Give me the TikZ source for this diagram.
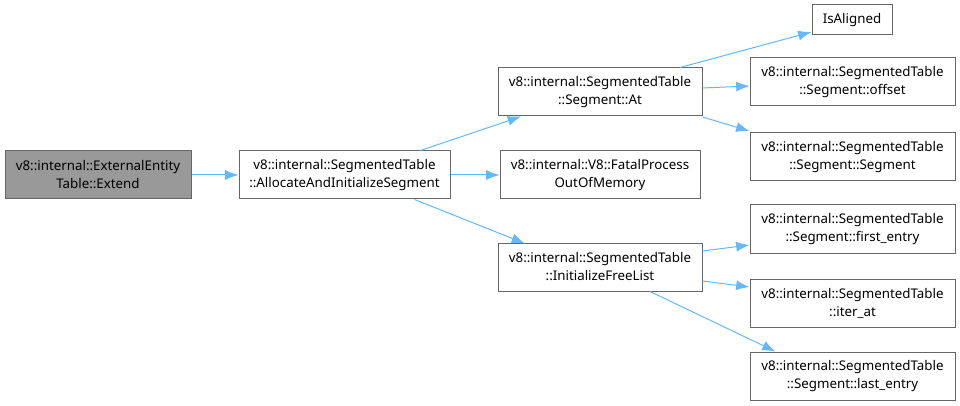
\documentclass[tikz,border=0pt]{standalone}
\usepackage{fontspec}
\setmainfont{Noto Sans}
\usetikzlibrary{arrows.meta,calc}
\definecolor{edgec}{HTML}{63B8FF}
\definecolor{bord}{HTML}{666666}
\definecolor{grayf}{HTML}{999999}
\tikzset{
  fn/.style args={#1/#2}{draw=bord, line width=0.75pt, fill=white, inner sep=0pt,
    minimum width=#1*0.75pt, minimum height=#2*0.75pt, align=center,
    font=\fontsize{10pt}{13.5pt}\selectfont},
  cur/.style={fill=grayf},
  edge/.style={draw=edgec, line width=0.75pt, -{Latex[length=10pt,width=7.5pt]}}
}
\begin{document}
\begin{tikzpicture}[x=0.75pt,y=-0.75pt]
\useasboundingbox (0,0) rectangle (960,406);
\node[fn=186/48, cur] (ext) at (98,175) {v8::internal::ExternalEntity\\Table::Extend};
\node[fn=211/48] (alloc) at (344.5,175) {v8::internal::SegmentedTable\\::AllocateAndInitializeSegment};
\node[fn=204/48] (at) at (600,92) {v8::internal::SegmentedTable\\::Segment::At};
\node[fn=200/48] (fatal) at (600,175) {v8::internal::V8::FatalProcess\\OutOfMemory};
\node[fn=204/48] (ifl) at (600,267) {v8::internal::SegmentedTable\\::InitializeFreeList};
\node[fn=80/30] (isal) at (852,20) {IsAligned};
\node[fn=205/48] (off) at (852.5,82) {v8::internal::SegmentedTable\\::Segment::offset};
\node[fn=205/48] (seg) at (852.5,157) {v8::internal::SegmentedTable\\::Segment::Segment};
\node[fn=205/48] (first) at (852.5,229) {v8::internal::SegmentedTable\\::Segment::first\_entry};
\node[fn=205/48] (iter) at (852.5,303) {v8::internal::SegmentedTable\\::iter\_at};
\node[fn=205/48] (last) at (852.5,376) {v8::internal::SegmentedTable\\::Segment::last\_entry};

\draw[edge] (ext) -- (alloc);
\draw[edge] ($(alloc.north)+(76,0)$) -- ($(at.south)+(-79,0)$);
\draw[edge] (alloc) -- (fatal);
\draw[edge] ($(alloc.south)+(70,0)$) -- ($(ifl.south)+(-75,-48)$);
\draw[edge] ($(at.north)+(80,0)$) -- ($(isal.west)+(0,12)$);
\draw[edge] ($(at.east)+(0,-4)$) -- ($(off.west)+(0,4)$);
\draw[edge] ($(at.east)+(0,25)$) -- ($(seg.west)+(0,-26)$);
\draw[edge] ($(ifl.east)+(0,-16)$) -- ($(first.west)+(0,16)$);
\draw[edge] ($(ifl.east)+(0,14)$) -- ($(iter.west)+(0,-16)$);
\draw[edge] ($(ifl.south)+(50,0)$) -- ($(last.north)+(-77,0)$);
\end{tikzpicture}
\end{document}
